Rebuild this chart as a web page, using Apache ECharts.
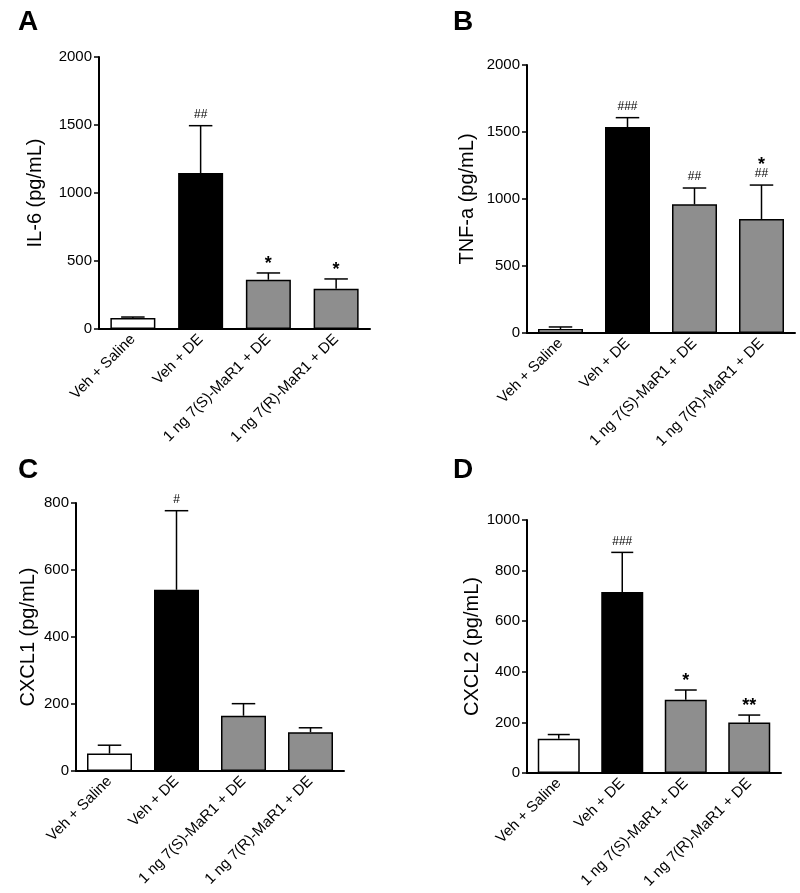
<!DOCTYPE html>
<html>
<head>
<meta charset="utf-8">
<script src="https://cdn.jsdelivr.net/npm/echarts@6/dist/echarts.min.js"></script>
<style>
html,body{margin:0;padding:0;background:#fff;}
#c{width:800px;height:893px;}
</style>
</head>
<body>
<div id="c"></div>
<script>
// ---- data ----
var categories = ['Veh + Saline', 'Veh + DE', '1 ng 7(S)-MaR1 + DE', '1 ng 7(R)-MaR1 + DE'];
var barColors = ['#ffffff', '#000000', '#8e8e8e', '#8e8e8e'];

var il6Mean = [81, 1147, 362, 296];
var il6Upper = [88, 1495, 412, 368];
var il6Hash = ['', '##', '', ''];
var il6Star = ['', '', '*', '*'];

var tnfMean = [30, 1537, 960, 851];
var tnfUpper = [45, 1607, 1082, 1104];
var tnfHash = ['', '###', '##', '##'];
var tnfStar = ['', '', '', '*'];

var cxcl1Mean = [52, 541, 165, 116];
var cxcl1Upper = [77, 777, 201, 129];
var cxcl1Hash = ['', '#', '', ''];
var cxcl1Star = ['', '', '', ''];

var cxcl2Mean = [135, 715, 290, 200];
var cxcl2Upper = [152, 872, 328, 229];
var cxcl2Hash = ['', '###', '', ''];
var cxcl2Star = ['', '', '*', '**'];

var yTicksA = {max: 2000, interval: 500};
var yTicksB = {max: 2000, interval: 500};
var yTicksC = {max: 800, interval: 200};
var yTicksD = {max: 1000, interval: 200};

// ---- layout ----
var FONT = '"Liberation Sans", Arial, Helvetica, sans-serif';
var panels = [
  {letter: 'A', name: 'IL-6 (pg/mL)', mean: il6Mean, upper: il6Upper, hash: il6Hash, star: il6Star, ticks: yTicksA,
   grid: {left: 99, top: 57, width: 271, height: 272}, nameGap: 54, barWidth: 45, lx: 18, ly: 8},
  {letter: 'B', name: 'TNF-a (pg/mL)', mean: tnfMean, upper: tnfUpper, hash: tnfHash, star: tnfStar, ticks: yTicksB,
   grid: {left: 527, top: 65, width: 268, height: 268}, nameGap: 50, barWidth: 45, lx: 453, ly: 8},
  {letter: 'C', name: 'CXCL1 (pg/mL)', mean: cxcl1Mean, upper: cxcl1Upper, hash: cxcl1Hash, star: cxcl1Star, ticks: yTicksC,
   grid: {left: 76, top: 503, width: 268, height: 268}, nameGap: 38, barWidth: 45, lx: 18, ly: 456},
  {letter: 'D', name: 'CXCL2 (pg/mL)', mean: cxcl2Mean, upper: cxcl2Upper, hash: cxcl2Hash, star: cxcl2Star, ticks: yTicksD,
   grid: {left: 527, top: 520, width: 254, height: 253}, nameGap: 38, barWidth: 42, lx: 453, ly: 456}
];

var option = {
  animation: false,
  backgroundColor: '#ffffff',
  textStyle: {fontFamily: FONT},
  grid: [], xAxis: [], yAxis: [], series: [], graphic: []
};

panels.forEach(function (p, i) {
  option.grid.push(p.grid);
  option.xAxis.push({
    type: 'category', gridIndex: i, data: categories,
    axisLine: {lineStyle: {color: '#000', width: 2}},
    axisTick: {alignWithLabel: true, length: 5, lineStyle: {color: '#000', width: 1.5}},
    axisLabel: {rotate: 45, color: '#000', fontSize: 15, fontFamily: FONT, margin: 8, interval: 0},
    splitLine: {show: false}
  });
  option.yAxis.push({
    type: 'value', gridIndex: i, min: 0, max: p.ticks.max, interval: p.ticks.interval,
    name: p.name, nameLocation: 'middle', nameRotate: 90, nameGap: p.nameGap,
    nameTextStyle: {color: '#000', fontSize: 20, fontFamily: FONT},
    axisLine: {show: true, lineStyle: {color: '#000', width: 2}},
    axisTick: {show: true, length: 5, lineStyle: {color: '#000', width: 1.5}},
    axisLabel: {color: '#000', fontSize: 15, fontFamily: FONT, margin: 7,
      formatter: function (v) { return String(v); }},
    splitLine: {show: false}
  });
  option.series.push({
    type: 'bar', xAxisIndex: i, yAxisIndex: i, barWidth: p.barWidth,
    data: p.mean.map(function (v, k) {
      return {value: v, itemStyle: {color: barColors[k], borderColor: '#000', borderWidth: 1.5}};
    }),
    z: 2
  });
  (function (p) {
    option.series.push({
      type: 'custom', xAxisIndex: i, yAxisIndex: i, z: 3,
      data: p.mean.map(function (v, k) { return [k, v, p.upper[k]]; }),
      renderItem: function (params, api) {
        var k = api.value(0);
        var base = api.coord([k, api.value(1)]);
        var top = api.coord([k, api.value(2)]);
        var half = p.barWidth / 4 + 0.5;
        var children = [
          {type: 'line', shape: {x1: base[0], y1: base[1], x2: top[0], y2: top[1]}, style: {stroke: '#000', lineWidth: 1.5}},
          {type: 'line', shape: {x1: top[0] - half, y1: top[1], x2: top[0] + half, y2: top[1]}, style: {stroke: '#000', lineWidth: 1.5}}
        ];
        var y = top[1] - 5;
        var h = p.hash[params.dataIndex];
        var s = p.star[params.dataIndex];
        if (h) {
          children.push({type: 'text', style: {x: top[0], y: y, text: h, align: 'center', verticalAlign: 'bottom',
            fill: '#000', font: '12px ' + FONT}});
          y -= 11;
        }
        if (s) {
          children.push({type: 'text', style: {x: top[0], y: y + 5, text: s, align: 'center', verticalAlign: 'bottom',
            fill: '#000', font: 'bold 18px ' + FONT}});
        }
        return {type: 'group', children: children};
      }
    });
  })(p);
  option.graphic.push({
    type: 'text', left: p.lx, top: p.ly,
    style: {text: p.letter, fill: '#000', font: 'bold 28px ' + FONT}
  });
});

var chart = echarts.init(document.getElementById('c'), null, {renderer: 'canvas'});
chart.setOption(option);
</script>
</body>
</html>
